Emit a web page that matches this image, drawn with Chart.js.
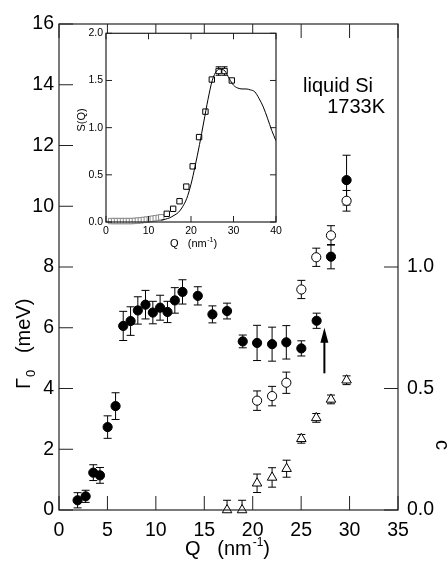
<!DOCTYPE html>
<html>
<head>
<meta charset="utf-8">
<script src="https://cdn.jsdelivr.net/npm/chart.js@4"></script>
<style>
  html, body { margin: 0; padding: 0; background: #fff; }
  #wrap { position: relative; width: 448px; height: 565px; }
  #main { position: absolute; left: 0; top: 0; width: 448px; height: 565px; }
  #inset { position: absolute; left: 60px; top: 24px; width: 230px; height: 235px; }
</style>
</head>
<body>
<div id="wrap">
  <canvas id="main" width="448" height="565"></canvas>
  <canvas id="inset" width="230" height="235"></canvas>
</div>
<script>
// Γ0 (meV), filled circles
const qFilled = [1.92, 2.75, 3.54, 4.23, 5.02, 5.84, 6.63, 7.39, 8.14, 8.93, 9.69, 10.44, 11.2, 11.96, 12.75, 14.33, 15.84, 17.35, 18.97, 20.45, 22.0, 23.47, 25.02, 26.6, 28.08, 29.69];
const gFilled = [0.32, 0.45, 1.23, 1.14, 2.73, 3.42, 6.06, 6.22, 6.57, 6.76, 6.50, 6.66, 6.52, 6.90, 7.18, 7.05, 6.44, 6.55, 5.55, 5.50, 5.46, 5.52, 5.32, 6.23, 8.34, 10.86];
const gFilledErr = [0.25, 0.2, 0.26, 0.26, 0.37, 0.44, 0.48, 0.47, 0.45, 0.47, 0.37, 0.41, 0.35, 0.42, 0.4, 0.3, 0.28, 0.26, 0.21, 0.58, 0.56, 0.55, 0.25, 0.25, 0.4, 0.82];

// Γ0 (meV), open circles
const qOpen = [20.45, 22.0, 23.47, 25.02, 26.56, 28.08, 29.69];
const gOpen = [3.60, 3.75, 4.19, 7.26, 8.32, 9.04, 10.18];
const gOpenErr = [0.32, 0.32, 0.35, 0.3, 0.3, 0.32, 0.34];

// c (right axis), triangles
const qTri = [17.35, 18.9, 20.45, 22.0, 23.5, 25.02, 26.56, 28.08, 29.69];
const cTri = [0.0, 0.0, 0.11, 0.134, 0.17, 0.293, 0.379, 0.455, 0.534];
const cTriErr = [0.04, 0.04, 0.038, 0.04, 0.035, 0.018, 0.018, 0.018, 0.018];

// axis ticks
const qTicks = [0, 5, 10, 15, 20, 25, 30, 35];
const gTicks = [0, 2, 4, 6, 8, 10, 12, 14, 16];
const cTicks = [0.0, 0.5, 1.0];

// arrow mark
const arrowQ = 27.4;
const arrowFrom = 4.5;
const arrowTo = 6.0;

// inset S(Q): measured squares
const sqQ = [1.2, 1.9, 2.6, 3.3, 4.0, 4.7, 5.4, 6.1, 6.8, 7.5, 8.2, 8.9, 9.6, 10.3, 11.0, 11.7, 12.4, 13.0, 14.3, 15.8, 17.3, 18.9, 20.4, 21.9, 23.4, 24.9, 26.5, 27.9, 29.6];
const sqS = [0.01, 0.01, 0.01, 0.01, 0.01, 0.01, 0.01, 0.01, 0.012, 0.015, 0.018, 0.022, 0.026, 0.03, 0.035, 0.04, 0.045, 0.05, 0.087, 0.14, 0.22, 0.375, 0.59, 0.90, 1.17, 1.51, 1.60, 1.60, 1.50];
const sqErr = [0, 0, 0, 0, 0, 0, 0, 0, 0, 0, 0, 0, 0, 0, 0, 0, 0, 0, 0, 0, 0, 0, 0, 0, 0, 0, 0.045, 0.045, 0];

// inset S(Q): solid curve
const curveQ = [13, 14, 15, 16, 17, 18, 19, 20, 21, 22, 23, 24, 25, 26, 27, 28, 29, 30, 31, 32, 33, 34, 35, 36, 37, 38, 39, 40];
const curveS = [0.02, 0.03, 0.045, 0.07, 0.1, 0.16, 0.25, 0.4, 0.6, 0.82, 1.06, 1.3, 1.5, 1.6, 1.62, 1.6, 1.52, 1.45, 1.42, 1.41, 1.41, 1.4, 1.38, 1.31, 1.22, 1.1, 0.97, 0.86];

const insetQTicks = [0, 10, 20, 30, 40];
const insetSTicks = [0, 0.5, 1.0, 1.5, 2.0];

const FONT = '"Liberation Sans", Arial, Helvetica, sans-serif';
const pts = (xs, ys) => xs.map((x, i) => ({ x: x, y: ys[i] }));

// vertical error bars, drawn under the markers
const errorBars = {
  id: 'errorBars',
  beforeDatasetsDraw(chart) {
    const ctx = chart.ctx;
    const a = chart.chartArea;
    ctx.save();
    ctx.beginPath();
    ctx.rect(a.left, a.top, a.right - a.left, a.bottom - a.top);
    ctx.clip();
    ctx.strokeStyle = '#000';
    ctx.lineWidth = 1;
    chart.data.datasets.forEach((ds, i) => {
      if (!ds.errors) return;
      const meta = chart.getDatasetMeta(i);
      const ys = chart.scales[meta.yAxisID];
      const cap = ds.capHalf || 4;
      meta.data.forEach((pt, j) => {
        const e = ds.errors[j];
        if (!e) return;
        const v = ds.data[j].y;
        const y1 = ys.getPixelForValue(v + e);
        const y2 = ys.getPixelForValue(v - e);
        ctx.beginPath();
        ctx.moveTo(pt.x, y1); ctx.lineTo(pt.x, y2);
        ctx.moveTo(pt.x - cap, y1); ctx.lineTo(pt.x + cap, y1);
        ctx.moveTo(pt.x - cap, y2); ctx.lineTo(pt.x + cap, y2);
        ctx.stroke();
      });
    });
    ctx.restore();
  }
};

// frame box + inward ticks
function drawFrame(chart, tickSpec, len) {
  const ctx = chart.ctx;
  const a = chart.chartArea;
  ctx.save();
  ctx.strokeStyle = '#222';
  ctx.lineWidth = 1.2;
  ctx.strokeRect(a.left, a.top, a.right - a.left, a.bottom - a.top);
  ctx.lineWidth = 1;
  ctx.beginPath();
  tickSpec.forEach(spec => {
    const s = chart.scales[spec.scale];
    spec.values.forEach(v => {
      const p = s.getPixelForValue(v);
      spec.sides.forEach(side => {
        if (side === 'bottom') { ctx.moveTo(p, a.bottom); ctx.lineTo(p, a.bottom - len); }
        if (side === 'top') { ctx.moveTo(p, a.top); ctx.lineTo(p, a.top + len); }
        if (side === 'left') { ctx.moveTo(a.left, p); ctx.lineTo(a.left + len, p); }
        if (side === 'right') { ctx.moveTo(a.right, p); ctx.lineTo(a.right - len, p); }
      });
    });
  });
  ctx.stroke();
  ctx.restore();
}

const mainDecor = {
  id: 'mainDecor',
  afterDatasetsDraw(chart) {
    const ctx = chart.ctx;
    const x = chart.scales.x, y = chart.scales.y;
    // arrow
    const ax = x.getPixelForValue(arrowQ);
    const y0 = y.getPixelForValue(arrowFrom);
    const y1 = y.getPixelForValue(arrowTo);
    ctx.save();
    ctx.strokeStyle = '#000';
    ctx.fillStyle = '#000';
    ctx.lineWidth = 2;
    ctx.beginPath();
    ctx.moveTo(ax, y0); ctx.lineTo(ax, y1 + 10);
    ctx.stroke();
    ctx.beginPath();
    ctx.moveTo(ax, y1); ctx.lineTo(ax - 4, y1 + 15); ctx.lineTo(ax + 4, y1 + 15);
    ctx.closePath();
    ctx.fill();
    ctx.restore();
  },
  afterDraw(chart) {
    drawFrame(chart, [
      { scale: 'x', values: qTicks, sides: ['bottom', 'top'] },
      { scale: 'y', values: gTicks, sides: ['left'] },
      { scale: 'yc', values: cTicks, sides: ['right'] }
    ], 14);
    const ctx = chart.ctx;
    ctx.save();
    ctx.fillStyle = '#000';
    ctx.font = '20px ' + FONT;
    ctx.textBaseline = 'alphabetic';
    // sample label
    ctx.textAlign = 'left';
    ctx.fillText('liquid Si', 303, 92);
    ctx.textAlign = 'right';
    ctx.fillText('1733K', 385, 113);
    // x title: Q (nm^-1)
    ctx.textAlign = 'left';
    let tx = 185;
    ctx.fillText('Q   (nm', tx, 555);
    tx += ctx.measureText('Q   (nm').width;
    ctx.font = '12px ' + FONT;
    ctx.fillText('-1', tx + 1, 546);
    tx += ctx.measureText('-1').width + 1;
    ctx.font = '20px ' + FONT;
    ctx.fillText(')', tx, 555);
    // left title: Γ0 (meV)
    ctx.save();
    ctx.translate(30, 389);
    ctx.rotate(-Math.PI / 2);
    ctx.fillText('\u0393', 0, 0);
    let w = ctx.measureText('\u0393').width;
    ctx.font = '13px ' + FONT;
    ctx.fillText('0', w + 1, 5);
    w += ctx.measureText('0').width + 1;
    ctx.font = '20px ' + FONT;
    ctx.fillText('   (meV)', w, 0);
    ctx.restore();
    // right title: c
    ctx.save();
    ctx.translate(436, 445);
    ctx.rotate(Math.PI / 2);
    ctx.textAlign = 'center';
    ctx.fillText('c', 0, 0);
    ctx.restore();
    ctx.restore();
  }
};

new Chart(document.getElementById('main'), {
  type: 'scatter',
  data: {
    datasets: [
      {
        label: 'c',
        data: pts(qTri, cTri),
        errors: cTriErr,
        yAxisID: 'yc',
        pointStyle: 'triangle',
        pointRadius: 5.5,
        pointBackgroundColor: '#fff',
        pointBorderColor: '#000',
        pointBorderWidth: 1,
        clip: false
      },
      {
        label: 'open',
        data: pts(qOpen, gOpen),
        errors: gOpenErr,
        yAxisID: 'y',
        pointStyle: 'circle',
        pointRadius: 4.6,
        pointBackgroundColor: '#fff',
        pointBorderColor: '#000',
        pointBorderWidth: 1,
        clip: false
      },
      {
        label: 'filled',
        data: pts(qFilled, gFilled),
        errors: gFilledErr,
        yAxisID: 'y',
        pointStyle: 'circle',
        pointRadius: 4.6,
        pointBackgroundColor: '#000',
        pointBorderColor: '#000',
        pointBorderWidth: 1,
        clip: false
      }
    ]
  },
  options: {
    responsive: false,
    animation: false,
    devicePixelRatio: 1,
    layout: { padding: { top: 24, right: 0, bottom: 0, left: 0 } },
    plugins: { legend: { display: false }, tooltip: { enabled: false } },
    scales: {
      x: {
        type: 'linear', min: 0, max: 35,
        afterBuildTicks: s => { s.ticks = qTicks.map(v => ({ value: v })); },
        afterFit: s => { s.height = 55; },
        grid: { display: false, drawTicks: false }, border: { display: false },
        ticks: { color: '#000', padding: 9, font: { family: FONT, size: 19.5 } }
      },
      y: {
        type: 'linear', position: 'left', min: 0, max: 16,
        afterBuildTicks: s => { s.ticks = gTicks.map(v => ({ value: v })); },
        afterFit: s => { s.width = 59; },
        grid: { display: false, drawTicks: false }, border: { display: false },
        ticks: { color: '#000', padding: 5, font: { family: FONT, size: 19.5 } }
      },
      yc: {
        type: 'linear', position: 'right', min: 0, max: 2,
        afterBuildTicks: s => { s.ticks = cTicks.map(v => ({ value: v })); },
        afterFit: s => { s.width = 50; },
        grid: { display: false, drawTicks: false }, border: { display: false },
        ticks: { color: '#000', padding: 9, font: { family: FONT, size: 19.5 },
                 callback: v => Number(v).toFixed(1) }
      }
    }
  },
  plugins: [errorBars, mainDecor]
});

const insetDecor = {
  id: 'insetDecor',
  beforeDraw(chart) {
    const a = chart.chartArea;
    chart.ctx.save();
    chart.ctx.fillStyle = '#fff';
    chart.ctx.fillRect(a.left, a.top, a.right - a.left, a.bottom - a.top);
    chart.ctx.restore();
  },
  afterDraw(chart) {
    drawFrame(chart, [
      { scale: 'x', values: insetQTicks, sides: ['bottom', 'top'] },
      { scale: 'y', values: insetSTicks, sides: ['left', 'right'] }
    ], 6);
    const ctx = chart.ctx;
    ctx.save();
    ctx.fillStyle = '#000';
    ctx.font = '11px ' + FONT;
    ctx.textAlign = 'left';
    let tx = 110;
    ctx.fillText('Q   (nm', tx, 223);
    tx += ctx.measureText('Q   (nm').width;
    ctx.font = '7px ' + FONT;
    ctx.fillText('-1', tx + 0.5, 218);
    tx += ctx.measureText('-1').width + 0.5;
    ctx.font = '11px ' + FONT;
    ctx.fillText(')', tx, 223);
    ctx.translate(25, 96);
    ctx.rotate(-Math.PI / 2);
    ctx.textAlign = 'center';
    ctx.fillText('S(Q)', 0, 0);
    ctx.restore();
  }
};

new Chart(document.getElementById('inset'), {
  type: 'scatter',
  data: {
    datasets: [
      {
        label: 'curve',
        data: pts(curveQ, curveS),
        showLine: true,
        borderColor: '#000',
        borderWidth: 1,
        pointRadius: 0,
        cubicInterpolationMode: 'monotone'
      },
      {
        label: 'S(Q)',
        data: pts(sqQ, sqS),
        errors: sqErr,
        capHalf: 3,
        pointStyle: 'rect',
        pointRadius: 3.8,
        pointBackgroundColor: '#fff',
        pointBorderColor: sqQ.map(q => q < 13.5 ? '#888' : '#000'),
        pointBorderWidth: 1,
        clip: false
      }
    ]
  },
  options: {
    responsive: false,
    animation: false,
    devicePixelRatio: 1,
    layout: { padding: { top: 4, right: 14, bottom: 0, left: 0 } },
    plugins: { legend: { display: false }, tooltip: { enabled: false } },
    scales: {
      x: {
        type: 'linear', min: 0, max: 40,
        afterBuildTicks: s => { s.ticks = insetQTicks.map(v => ({ value: v })); },
        afterFit: s => { s.height = 37; },
        grid: { display: false, drawTicks: false }, border: { display: false },
        ticks: { color: '#000', padding: 3, font: { family: FONT, size: 10.5 } }
      },
      y: {
        type: 'linear', min: 0, max: 2,
        afterBuildTicks: s => { s.ticks = insetSTicks.map(v => ({ value: v })); },
        afterFit: s => { s.width = 46; },
        grid: { display: false, drawTicks: false }, border: { display: false },
        ticks: { color: '#000', padding: 3, font: { family: FONT, size: 10.5 },
                 callback: v => Number(v).toFixed(1) }
      }
    }
  },
  plugins: [errorBars, insetDecor]
});
</script>
</body>
</html>
